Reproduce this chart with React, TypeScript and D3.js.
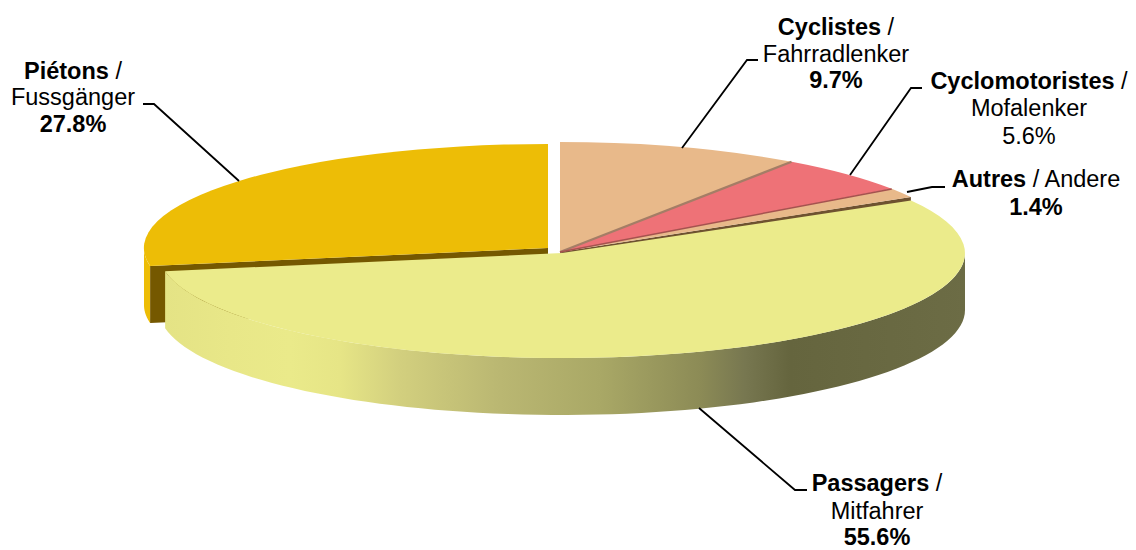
import React from "react";
import * as d3 from "d3";

const names = ["Piétons", "Cyclistes", "Cyclomotoristes", "Autres", "Passagers"];
const germanNames = ["Fussgänger", "Fahrradlenker", "Mofalenker", "Andere", "Mitfahrer"];
const shares = [27.8, 9.7, 5.6, 1.4, 55.6];
const percentBold = [true, true, false, true, true];
const topColors = ["#EDBD06", "#E8B98A", "#EE7277", "#E8B98A", "#EBEB8B"];

const WIDTH = 1136;
const HEIGHT = 550;
const FONT = "'Liberation Sans', Arial, sans-serif";
const FONT_SIZE = 23.5;
const DEPTH = 57;
const START = (-100 * Math.PI) / 180;

// geometry of each exploded wedge: centre and ellipse radii
const geo = [
  { cx: 548, cy: 248, rx: 404, ry: 104 },
  { cx: 560, cy: 252, rx: 405, ry: 110 },
  { cx: 560, cy: 252, rx: 405, ry: 110 },
  { cx: 560, cy: 252, rx: 405, ry: 110 },
  { cx: 562, cy: 253, rx: 403, ry: 105 },
];

const labelLayout = [
  { x: 73, ys: [79, 105, 132], leader: [[143, 104], [154, 104], [239, 181]] },
  { x: 836, ys: [35, 62, 88], leader: [[758, 60], [747, 60], [682, 148]] },
  { x: 1029, ys: [89, 116, 144], leader: [[922, 88], [911, 88], [850, 175]] },
  { x: 1036, ys: [187, 215], leader: [[945, 187], [932, 187], [907, 192]] },
  { x: 877, ys: [491, 519, 545], leader: [[807, 490], [795, 490], [699, 408]] },
];

const sideStops: [number, string][] = [
  [163, "#E4E385"],
  [230, "#E8E788"],
  [290, "#EAEA8A"],
  [340, "#E6E586"],
  [400, "#D2CF7E"],
  [500, "#BAB772"],
  [600, "#A9A866"],
  [700, "#8C8B56"],
  [745, "#777750"],
  [790, "#65653E"],
  [966, "#6C6C45"],
];

const pie = d3
  .pie<number>()
  .sort(null)
  .startAngle(START)
  .endAngle(START + 2 * Math.PI);
const arcs = pie(shares);
const unitArc = d3.arc<any>().innerRadius(0).outerRadius(1);
const line = d3.line<[number, number]>();

function pt(i: number, a: number, dy = 0): [number, number] {
  const g = geo[i];
  return [g.cx + g.rx * Math.sin(a), g.cy - g.ry * Math.cos(a) + dy];
}

function wall(i: number, a0: number, a1: number) {
  const n = 80;
  const angles = d3.range(n + 1).map((k) => a0 + ((a1 - a0) * k) / n);
  const top = angles.map((a) => pt(i, a));
  const bottom = angles.map((a) => pt(i, a, DEPTH)).reverse();
  return line([...top, ...bottom]) + "Z";
}

function cutFace(i: number, a: number, depth: number) {
  const g = geo[i];
  const rim = pt(i, a);
  return (
    line([
      [g.cx, g.cy],
      rim,
      [rim[0], rim[1] + depth],
      [g.cx, g.cy + depth],
    ]) + "Z"
  );
}

function Slice({ i }: { i: number }) {
  const g = geo[i];
  return (
    <path
      d={unitArc(arcs[i]) as string}
      transform={`translate(${g.cx},${g.cy}) scale(${g.rx},${g.ry})`}
      fill={topColors[i]}
    />
  );
}

function Label({ i }: { i: number }) {
  const l = labelLayout[i];
  const pct = `${shares[i].toFixed(1)}%`;
  const common = { x: l.x, textAnchor: "middle" as const, fontSize: FONT_SIZE, fill: "#000" };
  const oneLine = l.ys.length === 2;
  return (
    <g fontFamily={FONT}>
      <path d={line(l.leader as [number, number][]) as string} fill="none" stroke="#000" strokeWidth={1.8} />
      {oneLine ? (
        <text {...common} y={l.ys[0]}>
          <tspan fontWeight="bold">{names[i]}</tspan> / {germanNames[i]}
        </text>
      ) : (
        <>
          <text {...common} y={l.ys[0]}>
            <tspan fontWeight="bold">{names[i]}</tspan> /
          </text>
          <text {...common} y={l.ys[1]}>
            {germanNames[i]}
          </text>
        </>
      )}
      <text {...common} y={l.ys[l.ys.length - 1]} fontWeight={percentBold[i] ? "bold" : "normal"}>
        {pct}
      </text>
    </g>
  );
}

export default function App() {
  const p = arcs[0];
  const y = arcs[4];
  const xGrad = d3.scaleLinear().domain([163, 966]).range([0, 1]);
  const edge = (i: number) => {
    const g = geo[i];
    return line([[g.cx, g.cy], pt(i, arcs[i].endAngle)]) as string;
  };
  return (
    <svg
      width={WIDTH}
      height={HEIGHT}
      viewBox={`0 0 ${WIDTH} ${HEIGHT}`}
      style={{ position: "absolute", left: 0, top: 0, background: "#fff" }}
    >
      <defs>
        <linearGradient id="sideGrad" gradientUnits="userSpaceOnUse" x1={163} x2={966} y1={0} y2={0}>
          {sideStops.map(([x, c]) => (
            <stop key={x} offset={xGrad(x)} stopColor={c} />
          ))}
        </linearGradient>
      </defs>

      {/* Piétons: outer wall, cut face, top */}
      <path d={wall(0, p.startAngle, -Math.PI / 2)} fill="#EDBD06" />
      <path d={cutFace(0, p.startAngle, DEPTH)} fill="#755800" />
      <Slice i={0} />

      {/* back slices */}
      <path d={cutFace(3, arcs[3].endAngle, 8)} fill="#6E5230" />
      <Slice i={1} />
      <Slice i={2} />
      <Slice i={3} />
      <path d={edge(1)} stroke="#A47D66" strokeWidth={2.2} fill="none" />
      <path d={edge(2)} stroke="#A5524F" strokeWidth={1.5} fill="none" />

      {/* Passagers: wall then top */}
      <path d={wall(4, Math.PI / 2, y.endAngle)} fill="url(#sideGrad)" />
      <Slice i={4} />

      {names.map((_, i) => (
        <Label key={i} i={i} />
      ))}
    </svg>
  );
}
